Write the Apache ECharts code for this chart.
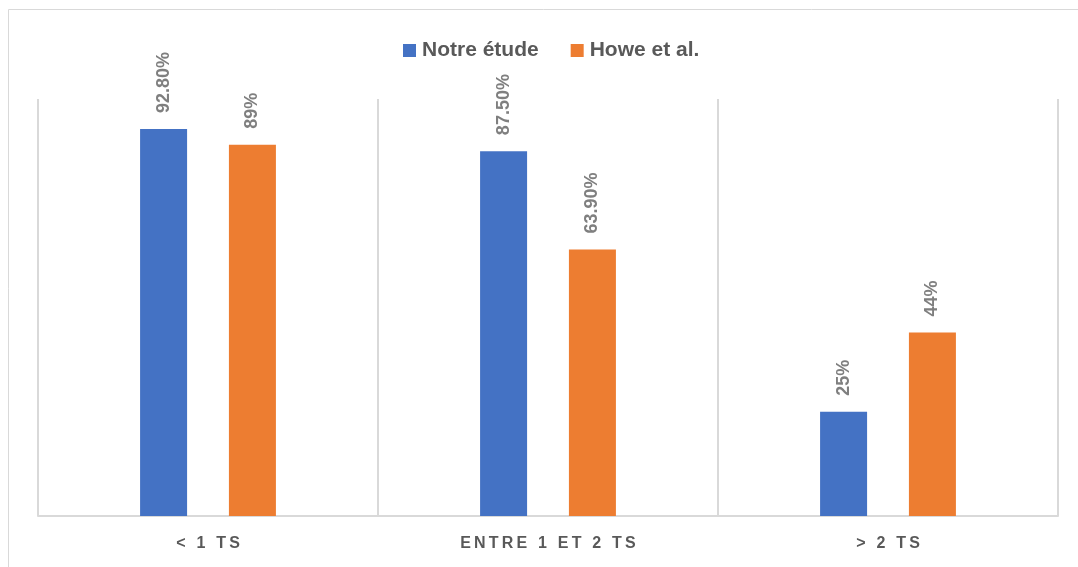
<!DOCTYPE html>
<html>
<head>
<meta charset="utf-8">
<script src="https://cdn.jsdelivr.net/npm/echarts@6/dist/echarts.min.js"></script>
<style>
html,body{margin:0;padding:0;background:#fff;}
#chart{width:1078px;height:567px;}
</style>
</head>
<body>
<div id="chart"></div>
<script>
var categories = ['< 1 TS', 'ENTRE 1 ET 2 TS', '> 2 TS'];
var seriesNames = ['Notre étude', 'Howe et al.'];
var notreValues = [92.8, 87.5, 25];
var howeValues = [89, 63.9, 44];
var notreLabels = ['92.80%', '87.50%', '25%'];
var howeLabels = ['89%', '63.90%', '44%'];

function spaced(s){ return s.split('').join('\u2009'); }

var chart = echarts.init(document.getElementById('chart'), null, {renderer:'canvas'});
var labelBase = {
  show: true, position: 'top', rotate: 90, align: 'left', verticalAlign: 'middle',
  distance: 16, color: '#7f7f7f', fontWeight: 'bold', fontSize: 18,
  fontFamily: 'Liberation Sans'
};
chart.setOption({
  animation: false,
  textStyle: {fontFamily: 'Liberation Sans'},
  graphic: [{
    type: 'rect', shape: {x: 8.5, y: 9.5, width: 1100, height: 600},
    style: {fill: 'none', stroke: '#d9d9d9', lineWidth: 1}, silent: true, z: -10
  }],
  legend: {
    data: seriesNames, top: 35, left: 398,
    itemWidth: 13, itemHeight: 13, itemGap: 32, icon: 'rect',
    textStyle: {fontSize: 21, fontWeight: 'bold', color: '#595959', fontFamily: 'Liberation Sans', padding: [0, 0, 0, 1]}
  },
  grid: {left: 38, right: 20, top: 99, bottom: 51, containLabel: false},
  xAxis: {
    type: 'category', data: categories, boundaryGap: true,
    axisLine: {show: true, lineStyle: {color: '#d9d9d9', width: 2}},
    axisTick: {show: false},
    splitLine: {show: true, lineStyle: {color: '#d9d9d9', width: 2}},
    axisLabel: {
      margin: 20, color: '#595959', fontWeight: 'bold', fontSize: 16,
      fontFamily: 'Liberation Sans',
      formatter: function(v){ return spaced(v); }
    }
  },
  yAxis: {
    type: 'value', min: 0, max: 100, show: false,
    splitLine: {show: false}
  },
  series: [{
    name: seriesNames[0], type: 'bar', data: notreValues,
    barWidth: 47, barGap: '89%',
    itemStyle: {color: '#4472C4'},
    label: Object.assign({}, labelBase, {formatter: function(p){ return notreLabels[p.dataIndex]; }})
  }, {
    name: seriesNames[1], type: 'bar', data: howeValues,
    barWidth: 47, barGap: '89%',
    itemStyle: {color: '#ED7D31'},
    label: Object.assign({}, labelBase, {formatter: function(p){ return howeLabels[p.dataIndex]; }})
  }]
});
</script>
</body>
</html>
